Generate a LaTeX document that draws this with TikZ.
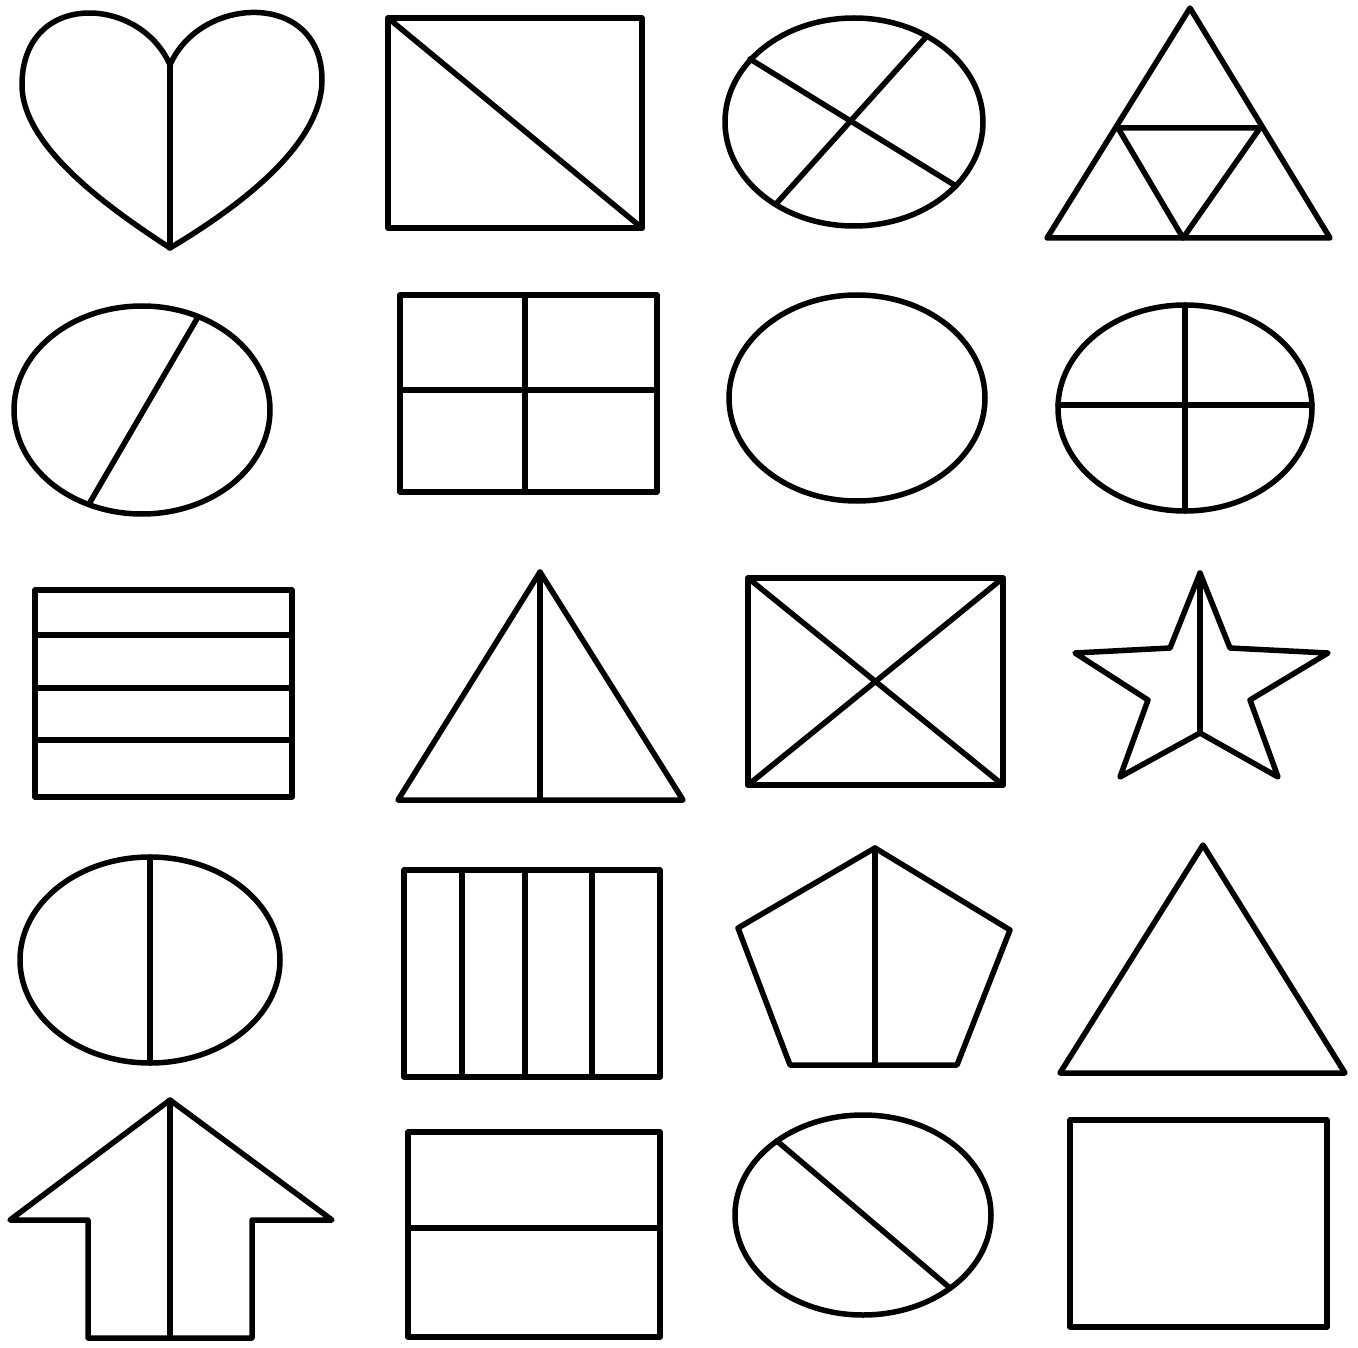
\documentclass[tikz,border=0pt]{standalone}
\begin{document}
\begin{tikzpicture}[x=1pt,y=-1pt,line join=round,line cap=round,
  shp/.style={draw=black,line width=5.5pt}]
\useasboundingbox[fill=white] (0,0) rectangle (1358,1348);
% Row 1
\draw[shp] (170,65) .. controls (140,-5) and (22,-10) .. (22,85) .. controls (22,150) and (120,215) .. (170,248)
  .. controls (225,215) and (322,150) .. (322,80) .. controls (322,-10) and (200,-5) .. (170,65) -- cycle;
\draw[shp] (170,65) -- (170,248);
\draw[shp] (388,18) rectangle (642,228);
\draw[shp] (388,18) -- (642,228);
\draw[shp] (854,122) ellipse [x radius=129, y radius=104];
\draw[shp] (750,59) -- (956,186);
\draw[shp] (927,36) -- (776,204);
\draw[shp] (1190,8) -- (1047,238) -- (1330,238) -- cycle;
\draw[shp] (1118,128) -- (1260,128) -- (1183,238) -- cycle;
% Row 2
\draw[shp] (142,410) ellipse [x radius=128, y radius=104];
\draw[shp] (198,317) -- (89,504);
\draw[shp] (400,295) rectangle (657,492);
\draw[shp] (525,295) -- (525,492);
\draw[shp] (400,390) -- (657,390);
\draw[shp] (857,398) ellipse [x radius=128, y radius=103];
\draw[shp] (1185,408) ellipse [x radius=127, y radius=103];
\draw[shp] (1185,305) -- (1185,511);
\draw[shp] (1058,405) -- (1312,405);
% Row 3
\draw[shp] (35,590) rectangle (292,797);
\draw[shp] (35,635) -- (292,635);
\draw[shp] (35,688) -- (292,688);
\draw[shp] (35,740) -- (292,740);
\draw[shp] (540,572) -- (398,800) -- (683,800) -- cycle;
\draw[shp] (540,572) -- (540,800);
\draw[shp] (748,578) rectangle (1003,785);
\draw[shp] (748,578) -- (1003,785);
\draw[shp] (1003,578) -- (748,785);
\draw[shp] (1200,573) -- (1230,648) -- (1328,653) -- (1250,700) -- (1278,777) -- (1200,733)
  -- (1120,777) -- (1148,700) -- (1075,653) -- (1170,648) -- cycle;
\draw[shp] (1200,573) -- (1200,733);
% Row 4
\draw[shp] (150,960) ellipse [x radius=130, y radius=103];
\draw[shp] (150,857) -- (150,1063);
\draw[shp] (404,870) rectangle (660,1077);
\draw[shp] (462,870) -- (462,1077);
\draw[shp] (525,870) -- (525,1077);
\draw[shp] (592,870) -- (592,1077);
\draw[shp] (875,848) -- (1010,930) -- (957,1065) -- (790,1065) -- (738,928) -- cycle;
\draw[shp] (875,848) -- (875,1065);
\draw[shp] (1203,845) -- (1060,1073) -- (1345,1073) -- cycle;
% Row 5
\draw[shp] (170,1100) -- (332,1220) -- (252,1220) -- (252,1338) -- (88,1338) -- (88,1220) -- (10,1220) -- cycle;
\draw[shp] (170,1100) -- (170,1338);
\draw[shp] (408,1132) rectangle (660,1337);
\draw[shp] (408,1228) -- (660,1228);
\draw[shp] (863,1215) ellipse [x radius=128, y radius=100];
\draw[shp] (777,1141) -- (950,1288);
\draw[shp] (1070,1120) rectangle (1327,1327);
\end{tikzpicture}
\end{document}
